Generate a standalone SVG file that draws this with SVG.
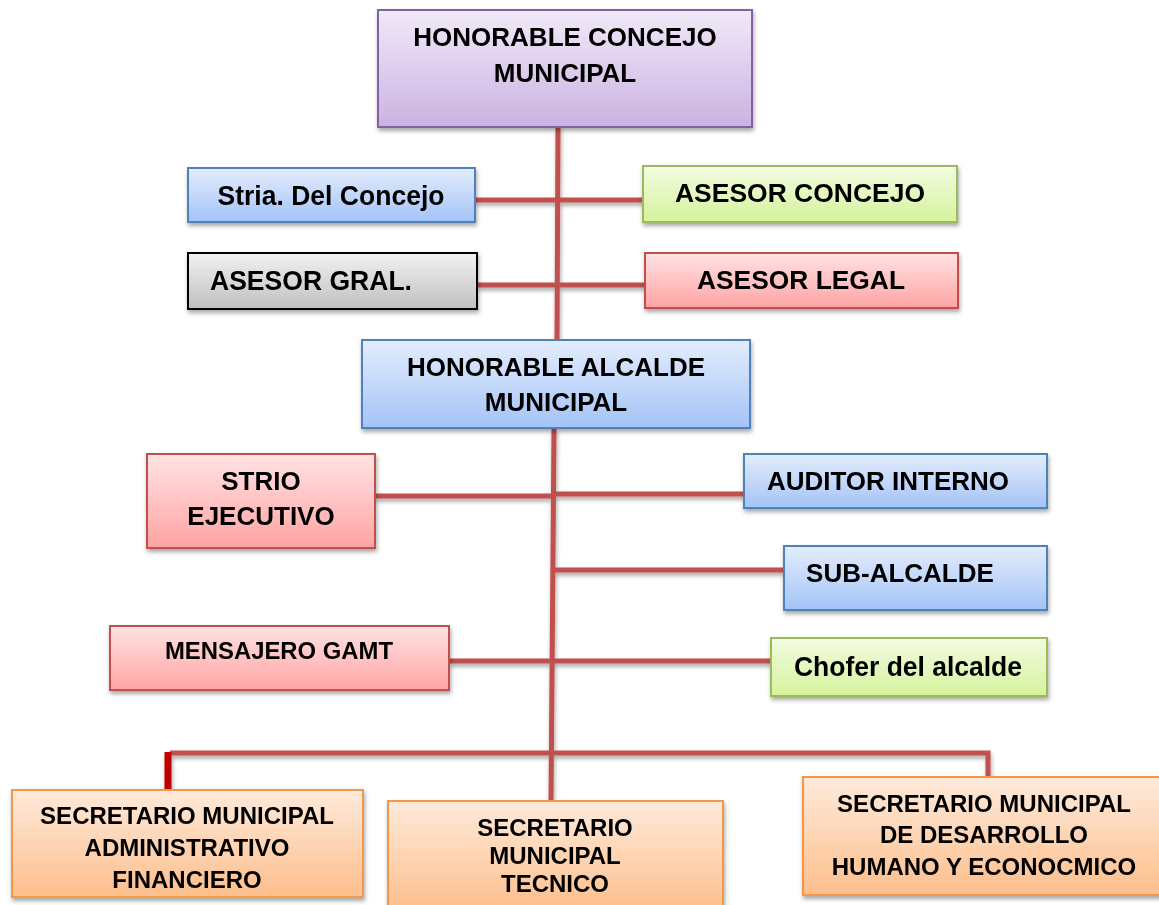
<svg xmlns="http://www.w3.org/2000/svg" width="1159" height="905" viewBox="0 0 1159 905">
<style>
text{font-family:"Liberation Sans",Arial,sans-serif;font-weight:bold;fill:#000;text-anchor:middle}
.t28{font-size:28px}
.t26{font-size:26px}
.t24{font-size:24px}
.box{stroke-width:2}
.conn{stroke:#c0504d;stroke-width:5;fill:none}
</style>
<defs>
<linearGradient id="gPurple" x1="0" y1="0" x2="0" y2="1"><stop offset="0" stop-color="#f1e9f8"/><stop offset="1" stop-color="#cbb2e2"/></linearGradient>
<linearGradient id="gBlue" x1="0" y1="0" x2="0" y2="1"><stop offset="0" stop-color="#e3edfd"/><stop offset="1" stop-color="#a4c3f6"/></linearGradient>
<linearGradient id="gGreen" x1="0" y1="0" x2="0" y2="1"><stop offset="0" stop-color="#f3fbe2"/><stop offset="1" stop-color="#d5f39c"/></linearGradient>
<linearGradient id="gGray" x1="0" y1="0" x2="0" y2="1"><stop offset="0" stop-color="#f2f2f2"/><stop offset="1" stop-color="#bfbfbf"/></linearGradient>
<linearGradient id="gRed" x1="0" y1="0" x2="0" y2="1"><stop offset="0" stop-color="#ffe3e3"/><stop offset="1" stop-color="#ffa3a3"/></linearGradient>
<linearGradient id="gOrange" x1="0" y1="0" x2="0" y2="1"><stop offset="0" stop-color="#feeadb"/><stop offset="1" stop-color="#fdbf8c"/></linearGradient>
<filter id="sh" x="-10%" y="-10%" width="130%" height="140%"><feDropShadow dx="1" dy="3" stdDeviation="2" flood-color="#000" flood-opacity="0.35"/></filter>
</defs>

<g id="connectors" filter="url(#sh)">
<line class="conn" x1="558" y1="127" x2="557" y2="340"/>
<line class="conn" x1="475" y1="200" x2="643" y2="200"/>
<line class="conn" x1="477" y1="285" x2="645" y2="285"/>
<line class="conn" x1="554" y1="428" x2="551" y2="800"/>
<line class="conn" x1="375" y1="496" x2="553" y2="496"/>
<line class="conn" x1="553" y1="494" x2="744" y2="494"/>
<line class="conn" x1="553" y1="570" x2="784" y2="570"/>
<line class="conn" x1="449" y1="661" x2="771" y2="661"/>
<polyline class="conn" points="170,753 988,753 988,777"/>
<line x1="168" y1="752" x2="168" y2="790" stroke="#c00000" stroke-width="7"/>
</g>

<g id="concejo" filter="url(#sh)">
<rect class="box" x="378" y="10" width="374" height="117" fill="url(#gPurple)" stroke="#8064a2"/>
<text class="t26" x="565" y="46">HONORABLE CONCEJO</text>
<text class="t26" x="565" y="82">MUNICIPAL</text>
</g>

<g id="stria" filter="url(#sh)">
<rect class="box" x="188" y="168" width="287" height="54" fill="url(#gBlue)" stroke="#4f81bd"/>
<text class="t28" x="331" y="205" textLength="227" lengthAdjust="spacingAndGlyphs">Stria. Del Concejo</text>
</g>

<g id="asesor-concejo" filter="url(#sh)">
<rect class="box" x="643" y="166" width="314" height="56" fill="url(#gGreen)" stroke="#9bbb59"/>
<text class="t26" x="800" y="202" textLength="250" lengthAdjust="spacingAndGlyphs">ASESOR CONCEJO</text>
</g>

<g id="asesor-gral" filter="url(#sh)">
<rect class="box" x="188" y="253" width="289" height="56" fill="url(#gGray)" stroke="#000"/>
<text class="t28" x="311" y="290" textLength="202" lengthAdjust="spacingAndGlyphs">ASESOR GRAL.</text>
</g>

<g id="asesor-legal" filter="url(#sh)">
<rect class="box" x="645" y="253" width="313" height="55" fill="url(#gRed)" stroke="#c0504d"/>
<text class="t26" x="801" y="289" textLength="208" lengthAdjust="spacingAndGlyphs">ASESOR LEGAL</text>
</g>

<g id="alcalde" filter="url(#sh)">
<rect class="box" x="362" y="340" width="388" height="88" fill="url(#gBlue)" stroke="#4f81bd"/>
<text class="t26" x="556" y="376">HONORABLE ALCALDE</text>
<text class="t26" x="556" y="411">MUNICIPAL</text>
</g>

<g id="strio" filter="url(#sh)">
<rect class="box" x="147" y="454" width="228" height="94" fill="url(#gRed)" stroke="#c0504d"/>
<text class="t26" x="261" y="490">STRIO</text>
<text class="t26" x="261" y="525">EJECUTIVO</text>
</g>

<g id="auditor" filter="url(#sh)">
<rect class="box" x="744" y="454" width="303" height="54" fill="url(#gBlue)" stroke="#4f81bd"/>
<text class="t26" x="888" y="490">AUDITOR INTERNO</text>
</g>

<g id="subalcalde" filter="url(#sh)">
<rect class="box" x="784" y="546" width="263" height="64" fill="url(#gBlue)" stroke="#4f81bd"/>
<text class="t26" x="900" y="582">SUB-ALCALDE</text>
</g>

<g id="mensajero" filter="url(#sh)">
<rect class="box" x="110" y="626" width="339" height="64" fill="url(#gRed)" stroke="#c0504d"/>
<text class="t24" x="279" y="659" textLength="228" lengthAdjust="spacingAndGlyphs">MENSAJERO GAMT</text>
</g>

<g id="chofer" filter="url(#sh)">
<rect class="box" x="771" y="638" width="276" height="58" fill="url(#gGreen)" stroke="#9bbb59"/>
<text class="t28" x="908" y="676" textLength="228" lengthAdjust="spacingAndGlyphs">Chofer del alcalde</text>
</g>

<g id="sec-admin" filter="url(#sh)">
<rect class="box" x="12" y="790" width="351" height="107" fill="url(#gOrange)" stroke="#f79646"/>
<text class="t24" x="187" y="824">SECRETARIO MUNICIPAL</text>
<text class="t24" x="187" y="856">ADMINISTRATIVO</text>
<text class="t24" x="187" y="888">FINANCIERO</text>
</g>

<g id="sec-tecnico" filter="url(#sh)">
<rect class="box" x="388" y="801" width="335" height="110" fill="url(#gOrange)" stroke="#f79646"/>
<text class="t24" x="555" y="836">SECRETARIO</text>
<text class="t24" x="555" y="864">MUNICIPAL</text>
<text class="t24" x="555" y="892">TECNICO</text>
</g>

<g id="sec-desarrollo" filter="url(#sh)">
<rect class="box" x="803" y="777" width="360" height="118" fill="url(#gOrange)" stroke="#f79646"/>
<text class="t24" x="984" y="812">SECRETARIO MUNICIPAL</text>
<text class="t24" x="984" y="843">DE DESARROLLO</text>
<text class="t24" x="984" y="875">HUMANO Y ECONOCMICO</text>
</g>
</svg>
